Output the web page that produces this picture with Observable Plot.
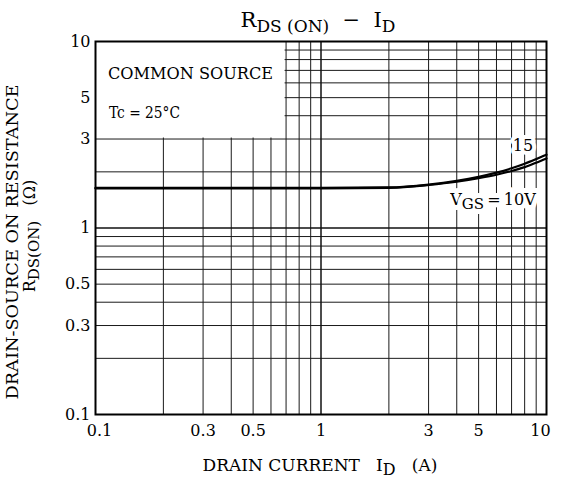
<!DOCTYPE html>
<html><head><meta charset="utf-8">
<script src="https://cdn.jsdelivr.net/npm/d3@7"></script>
<script src="https://cdn.jsdelivr.net/npm/@observablehq/plot@0.6"></script>
<style>
body{margin:0;background:#fff;}
#chart svg{display:block;}
</style></head>
<body><div id="chart"></div>
<script>
// Drain current (A)
const idAmps = [0.1, 0.2, 0.5, 1, 2, 3, 4, 5, 6, 7, 8, 9, 10];
// RDS(ON) (ohm) for each gate voltage
const rdsVgs10 = [1.64, 1.64, 1.64, 1.64, 1.65, 1.71, 1.79, 1.88, 1.98, 2.09, 2.21, 2.34, 2.47];
const rdsVgs15 = [1.63, 1.63, 1.63, 1.63, 1.64, 1.70, 1.77, 1.85, 1.93, 2.02, 2.12, 2.24, 2.36];

const xTicks = [0.1, 0.3, 0.5, 1, 3, 5, 10];
const xTickLabels = ["0.1", "0.3", "0.5", "1", "3", "5", "10"];
const yTicks = [0.1, 0.3, 0.5, 1, 3, 5, 10];
const yTickLabels = ["0.1", "0.3", "0.5", "1", "3", "5", "10"];
const xGrid = [0.2, 0.3, 0.4, 0.5, 0.6, 0.7, 0.8, 0.9, 2, 3, 4, 5, 6, 7, 8, 9];
const yGrid = [0.2, 0.3, 0.4, 0.5, 0.6, 0.7, 0.8, 0.9, 2, 3, 4, 5, 6, 7, 8, 9];
const decadeLines = [1];
const noteBox = [{x1: 0.1, x2: 0.7, y1: 3, y2: 10}];
const noteLines = ["COMMON SOURCE", "Tc = 25°C"];
const label15 = {x: 7.9, y: 2.77, text: "15"};
const labelVgs = {x: 5.82, y: 1.42};

const FONT = "DejaVu Serif";
const tickFmt = (ticks, labels) => d => labels[ticks.indexOf(d)];

const series = [
  ...idAmps.map((x, i) => ({x, y: rdsVgs10[i], vgs: "10"})),
  ...idAmps.map((x, i) => ({x, y: rdsVgs15[i], vgs: "15"}))
];

const xText = (ticks, dx) => Plot.text(ticks, {
  x: d => d, text: tickFmt(xTicks, xTickLabels), frameAnchor: "bottom",
  lineAnchor: "top", dy: 10, dx, fontSize: 16, fill: "black"
});

const plot = Plot.plot({
  width: 569, height: 480,
  marginLeft: 95, marginRight: 23, marginTop: 41, marginBottom: 66,
  x: {type: "log", domain: [0.1, 10], axis: null},
  y: {type: "log", domain: [0.1, 10]},
  style: {fontFamily: FONT, fontSize: "15px", color: "black", background: "white"},
  marks: [
    Plot.ruleX(xGrid, {stroke: "#1a1a1a", strokeWidth: 1}),
    Plot.ruleY(yGrid, {stroke: "#1a1a1a", strokeWidth: 1}),
    Plot.ruleX(decadeLines, {stroke: "#111", strokeWidth: 1.5}),
    Plot.ruleY(decadeLines, {stroke: "#111", strokeWidth: 1.5}),
    Plot.rect(noteBox, {x1: "x1", x2: "x2", y1: "y1", y2: "y2", fill: "white", insetRight: 1, insetBottom: 1}),
    Plot.line(series, {x: "x", y: "y", z: "vgs", stroke: "black", strokeWidth: 2.2, curve: "monotone-x"}),
    Plot.frame({stroke: "black", strokeWidth: 2}),
    Plot.axisY(yTicks, {tickSize: 0, tickPadding: 5, fontSize: 16, label: null, tickFormat: tickFmt(yTicks, yTickLabels)}),
    xText(xTicks.slice(1, -1), 0),
    xText(xTicks.slice(0, 1), 4),
    xText(xTicks.slice(-1), -6)
  ]
});
document.getElementById("chart").append(plot);

const svg = d3.select(plot);
const sx = plot.scale("x"), sy = plot.scale("y");

function rich(x, y, parts, o = {}) {
  const size = o.size || 16, sub = o.subSize || size - 3, shift = o.shift || 4;
  const t = svg.append("text")
    .attr("x", x).attr("y", y)
    .attr("font-family", FONT).attr("font-size", size)
    .attr("fill", "black")
    .attr("text-anchor", o.anchor || "middle")
    .style("white-space", "pre");
  if (o.rotate) t.attr("transform", `rotate(${o.rotate} ${x} ${y})`);
  if (o.halo) t.attr("stroke", "white").attr("stroke-width", o.halo).attr("paint-order", "stroke").attr("stroke-linejoin", "round");
  if (o.length) t.attr("textLength", o.length).attr("lengthAdjust", "spacingAndGlyphs");
  let down = false;
  for (const [txt, isSub] of parts) {
    const ts = t.append("tspan").text(txt);
    if (isSub && !down) { ts.attr("dy", shift).attr("font-size", sub); down = true; }
    else if (isSub) { ts.attr("font-size", sub); }
    else if (down) { ts.attr("dy", -shift); down = false; }
  }
  return t;
}

// Title
rich(318, 27, [["R"], ["DS (ON)", 1], ["  −  I"], ["D", 1]], {size: 21, subSize: 17, shift: 5});
// X axis label
rich(320, 471, [["DRAIN CURRENT   I"], ["D", 1], ["   (A)"]], {size: 17, subSize: 16, shift: 4});
// Y axis label (two lines)
rich(18, 242, [["DRAIN-SOURCE ON RESISTANCE"]], {size: 16, rotate: -90, length: 315});
rich(35, 236, [["R"], ["DS(ON)", 1], ["   (Ω)"]], {size: 16, subSize: 15, shift: 4, rotate: -90});
// Note box text
rich(108, 79, [[noteLines[0]]], {size: 16, anchor: "start", length: 165});
rich(109, 118, [[noteLines[1]]], {size: 16, anchor: "start", length: 71});
// Curve labels
rich(sx.apply(label15.x), sy.apply(label15.y) + 6, [[label15.text]], {size: 16, halo: 8});
rich(sx.apply(labelVgs.x), sy.apply(labelVgs.y) + 6, [["V"], ["GS", 1], ["\u2009=\u200910V"]], {size: 16, subSize: 15, shift: 4, halo: 10});
</script>
</body></html>
